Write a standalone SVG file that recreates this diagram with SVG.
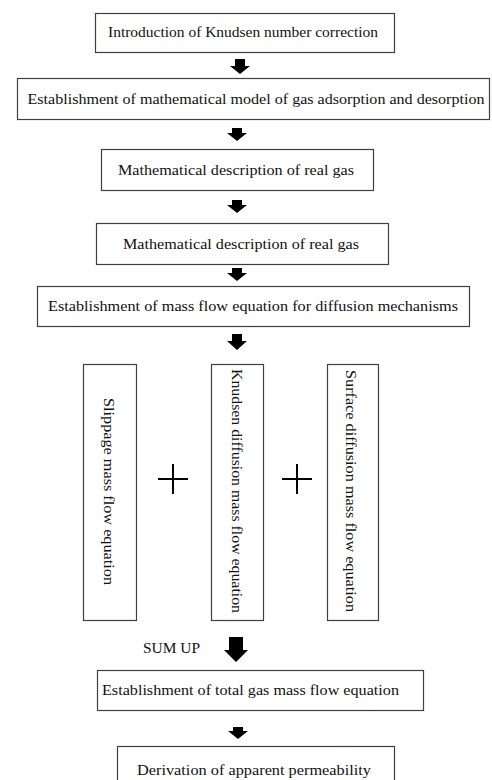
<svg xmlns="http://www.w3.org/2000/svg" width="492" height="780" viewBox="0 0 492 780">
<style>
.box{fill:#fff;stroke:#404040;stroke-width:1.2}
text{font-family:'Liberation Serif','Times New Roman','DejaVu Serif',serif;font-size:15px;fill:#111;text-anchor:middle}
.v{dominant-baseline:central}
.arr{fill:#000}
.plus{stroke:#000;stroke-width:2;fill:none}
</style>
<rect width="492" height="780" fill="#fff"/>
<g id="n1"><rect class="box" x="95.5" y="13.5" width="299" height="39"/><text x="243" y="37" textLength="270" lengthAdjust="spacingAndGlyphs">Introduction of Knudsen number correction</text></g>
<g id="n2"><rect class="box" x="17.5" y="78.5" width="472" height="41"/><text x="256" y="103.5" textLength="457" lengthAdjust="spacingAndGlyphs">Establishment of mathematical model of gas adsorption and desorption</text></g>
<g id="n3"><rect class="box" x="101.5" y="149.5" width="272" height="41"/><text x="236" y="175" textLength="236" lengthAdjust="spacingAndGlyphs">Mathematical description of real gas</text></g>
<g id="n4"><rect class="box" x="96.5" y="223.5" width="292" height="41"/><text x="241" y="248.5" textLength="236" lengthAdjust="spacingAndGlyphs">Mathematical description of real gas</text></g>
<g id="n5"><rect class="box" x="37.5" y="286.5" width="432" height="40"/><text x="253" y="311" textLength="410" lengthAdjust="spacingAndGlyphs">Establishment of mass flow equation for diffusion mechanisms</text></g>
<g id="n6"><rect class="box" x="83.5" y="364.5" width="53" height="256"/><text class="v" transform="translate(109,491.5) rotate(90)" textLength="187" lengthAdjust="spacingAndGlyphs">Slippage mass flow equation</text></g>
<g id="n7"><rect class="box" x="211.5" y="364.5" width="52" height="256"/><text class="v" transform="translate(236.5,491) rotate(90)" textLength="244" lengthAdjust="spacingAndGlyphs">Knudsen diffusion mass flow equation</text></g>
<g id="n8"><rect class="box" x="327.5" y="364.5" width="51" height="256"/><text class="v" transform="translate(351,491) rotate(90)" textLength="242" lengthAdjust="spacingAndGlyphs">Surface diffusion mass flow equation</text></g>
<g id="n9"><rect class="box" x="97.5" y="670.5" width="326" height="40"/><text x="250.5" y="695" textLength="297" lengthAdjust="spacingAndGlyphs">Establishment of total gas mass flow equation</text></g>
<g id="n10"><rect class="box" x="117.5" y="746.5" width="277" height="40"/><text x="254" y="775" textLength="234" lengthAdjust="spacingAndGlyphs">Derivation of apparent permeability</text></g>
<g id="connectors">
<path class="arr" d="M235,59 h10 v7 h5 l-10,8 l-10,-8 h5 z"/>
<path class="arr" d="M232,128 h10 v5 h5 l-10,8 l-10,-8 h5 z"/>
<path class="arr" d="M232,200 h10 v5 h5 l-10,8 l-10,-8 h5 z"/>
<path class="arr" d="M232,268 h10 v5 h5 l-10,8 l-10,-8 h5 z"/>
<path class="arr" d="M232,334 h10 v7 h5 l-10,9 l-10,-9 h5 z"/>
<path class="plus" d="M158,479 h30 M173,464 v30"/>
<path class="plus" d="M282,479 h30 M297,464 v30"/>
<text x="171.5" y="653" textLength="57" lengthAdjust="spacingAndGlyphs">SUM UP</text>
<path class="arr" d="M229,637 h14 v13 h5 l-12,12 l-12,-12 h5 z"/>
<path class="arr" d="M233,727 h10 v4 h5 l-10,8 l-10,-8 h5 z"/>
</g>
</svg>
